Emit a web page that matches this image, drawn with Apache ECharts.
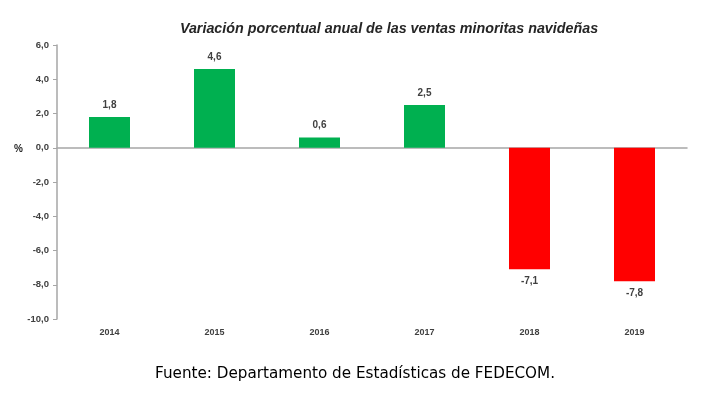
<!DOCTYPE html>
<html><head><meta charset="utf-8">
<script src="https://cdn.jsdelivr.net/npm/echarts@6/dist/echarts.min.js"></script>
<style>html,body{margin:0;padding:0;background:#fff}#c{width:711px;height:395px}</style>
</head><body><div id="c"></div>
<script>
const years = ['2014','2015','2016','2017','2018','2019'];
const values = [1.8, 4.6, 0.6, 2.5, -7.1, -7.8];
const yTicks = { min: -10, max: 6, interval: 2 };
const titleText = 'Variación porcentual anual de las ventas minoritas navideñas';
const sourceText = 'Fuente: Departamento de Estadísticas de FEDECOM.';

const fmt = v => v.toFixed(1).replace('.', ',');
const chart = echarts.init(document.getElementById('c'));
chart.setOption({
  animation: false,
  title: [
    { text: titleText, left: 384, top: 17, textAlign: 'center',
      textStyle: { fontFamily: 'Liberation Sans', fontStyle: 'italic', fontWeight: 'bold', fontSize: 14.3, color: '#262626' } },
    { text: sourceText, left: 350, top: 362, textAlign: 'center',
      textStyle: { fontFamily: 'DejaVu Sans', fontWeight: 'normal', fontSize: 15.2, color: '#000' } },
    { text: '%', left: 9, top: 139,
      textStyle: { fontFamily: 'Liberation Sans', fontWeight: 'bold', fontSize: 10, color: '#262626' } }
  ],
  grid: { left: 57, right: 24, top: 45, bottom: 76 },
  xAxis: [
    { type: 'category', data: years, position: 'bottom',
      axisLine: { show: false, onZero: false }, axisTick: { show: false },
      axisLabel: { margin: 9, fontFamily: 'Liberation Sans', fontWeight: 'bold', fontSize: 9, color: '#404040' } },
    { type: 'category', data: years, position: 'bottom',
      axisLine: { show: true, onZero: true, lineStyle: { color: '#A6A6A6', width: 1.5 } },
      axisTick: { show: false }, axisLabel: { show: false } }
  ],
  yAxis: {
    type: 'value', min: yTicks.min, max: yTicks.max, interval: yTicks.interval,
    axisLine: { show: true, lineStyle: { color: '#A6A6A6', width: 1.5 } },
    axisTick: { show: true, inside: false, length: 4, lineStyle: { color: '#A6A6A6' } },
    splitLine: { show: false },
    axisLabel: { formatter: fmt, margin: 8, fontFamily: 'Liberation Sans', fontWeight: 'bold', fontSize: 9.5, color: '#404040' }
  },
  series: [{
    type: 'bar', xAxisIndex: 0, barWidth: 41,
    data: values.map(v => ({
      value: v,
      itemStyle: { color: v >= 0 ? '#00B050' : '#FF0000' },
      label: { position: v >= 0 ? 'top' : 'bottom' }
    })),
    label: { show: true, distance: 7, formatter: p => fmt(p.value),
      fontFamily: 'Liberation Sans', fontWeight: 'bold', fontSize: 10, color: '#404040' }
  }]
});
</script></body></html>
